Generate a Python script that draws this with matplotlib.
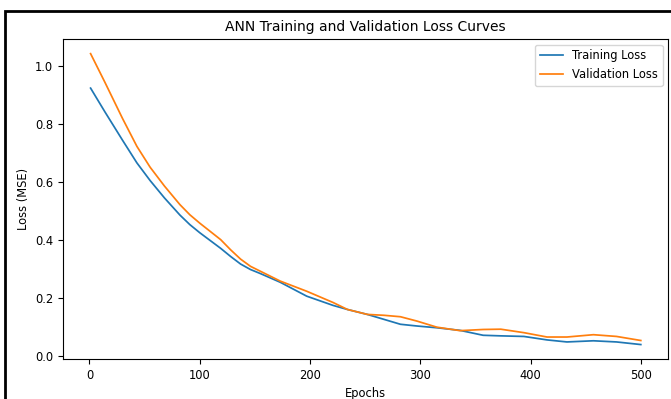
import matplotlib.pyplot as plt
from matplotlib.patches import Rectangle

# Values
epochs = [1, 14, 30, 43, 55, 68, 82, 91, 100, 119, 128, 137, 146, 155, 173,
          197, 221, 234, 252, 267, 282, 297, 315, 336, 357, 373, 394, 415,
          433, 457, 478, 500]
train_loss = [0.925, 0.843, 0.745, 0.667, 0.606, 0.546, 0.487, 0.454, 0.426,
              0.372, 0.344, 0.318, 0.299, 0.285, 0.255, 0.207, 0.175, 0.161,
              0.144, 0.127, 0.110, 0.104, 0.098, 0.089, 0.072, 0.070, 0.068,
              0.056, 0.049, 0.053, 0.049, 0.040]
val_loss = [1.044, 0.945, 0.820, 0.724, 0.652, 0.587, 0.523, 0.488, 0.459,
            0.402, 0.367, 0.335, 0.310, 0.293, 0.259, 0.224, 0.185, 0.161,
            0.144, 0.141, 0.136, 0.121, 0.100, 0.088, 0.092, 0.093, 0.081,
            0.066, 0.066, 0.074, 0.068, 0.054]

fs = 8.3
fig = plt.figure(figsize=(6.71, 3.99), dpi=100)
ax = fig.add_axes([0.094, 0.100, 0.902, 0.802])

ax.plot(epochs, train_loss, label='Training Loss', lw=1.25)
ax.plot(epochs, val_loss, label='Validation Loss', lw=1.25)

ax.set_title('ANN Training and Validation Loss Curves', fontsize=10)
ax.set_xlabel('Epochs', fontsize=fs)
ax.set_ylabel('Loss (MSE)', fontsize=fs)
ax.tick_params(labelsize=fs)
ax.legend(fontsize=fs, loc='upper right')

# black frame around the screenshot
fig.patches.append(Rectangle((0.008, -0.05), 1.1, 1.022, transform=fig.transFigure,
                             fill=False, edgecolor='black', linewidth=2))

fig.savefig('out.png', dpi=100)
